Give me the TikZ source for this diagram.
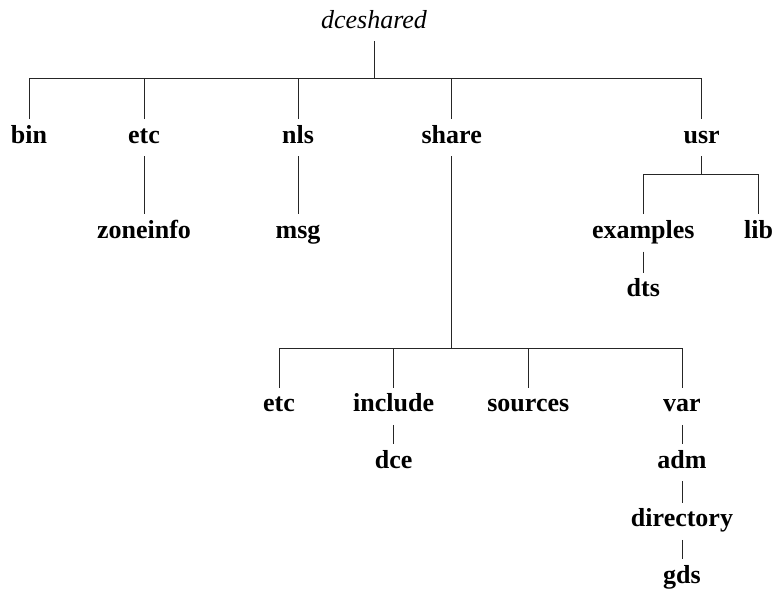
\documentclass[tikz,border=0pt]{standalone}
\usepackage{fontspec}
\setmainfont{Liberation Serif}
\begin{document}
\begin{tikzpicture}[x=1pt,y=1pt,
  lbl/.style={anchor=base,inner sep=0pt,text height=24pt,text depth=13pt,font=\fontsize{26}{30}\selectfont\bfseries},
  rootlbl/.style={lbl,font=\fontsize{26}{30}\selectfont\itshape},
  conn/.style={draw=black!85,line width=1pt}]
\useasboundingbox (0,0) rectangle (774,-591);
% nodes
\node[rootlbl] (root) at (374,-28.3) {dceshared};
\node[lbl] (bin) at (29,-143.3) {bin};
\node[lbl] (etc) at (144,-143.3) {etc};
\node[lbl] (nls) at (298,-143.3) {nls};
\node[lbl] (share) at (451.7,-143.3) {share};
\node[lbl] (usr) at (701.7,-143.3) {usr};
\node[lbl] (zoneinfo) at (144,-238.3) {zoneinfo};
\node[lbl] (msg) at (298,-238.3) {msg};
\node[lbl] (examples) at (643.3,-238.3) {examples};
\node[lbl] (lib) at (758.5,-238.3) {lib};
\node[lbl] (dts) at (643.3,-296.7) {dts};
\node[lbl] (setc) at (279,-411.7) {etc};
\node[lbl] (include) at (393.7,-411.7) {include};
\node[lbl] (sources) at (528.3,-411.7) {sources};
\node[lbl] (var) at (682,-411.7) {var};
\node[lbl] (dce) at (393.7,-468) {dce};
\node[lbl] (adm) at (682,-468) {adm};
\node[lbl] (directory) at (682,-526.7) {directory};
\node[lbl] (gds) at (682,-583.3) {gds};
% bars
\coordinate (rb) at (root.south |- 0,-79);
\coordinate (sb) at (share.south |- 0,-348.3);
\coordinate (ub) at (usr.south |- 0,-175);
% root fork
\draw[conn] (root.south) -- (rb);
\draw[conn] (bin.north) |- (usr.north |- rb) -- (usr.north);
\foreach \n in {etc,nls,share}{\draw[conn] (\n.north) -- (\n.north |- rb);}
% single links
\draw[conn] (etc.south) -- (zoneinfo.north);
\draw[conn] (nls.south) -- (msg.north);
\draw[conn] (examples.south) -- (dts.north);
\draw[conn] (include.south) -- (dce.north);
\draw[conn] (var.south) -- (adm.north);
\draw[conn] (adm.south) -- (directory.north);
\draw[conn] (directory.south) -- (gds.north);
% usr fork
\draw[conn] (usr.south) -- (ub);
\draw[conn] (examples.north) |- (lib.north |- ub) -- (lib.north);
% share fork
\draw[conn] (share.south) -- (sb);
\draw[conn] (setc.north) |- (var.north |- sb) -- (var.north);
\foreach \n in {include,sources}{\draw[conn] (\n.north) -- (\n.north |- sb);}
\end{tikzpicture}
\end{document}
